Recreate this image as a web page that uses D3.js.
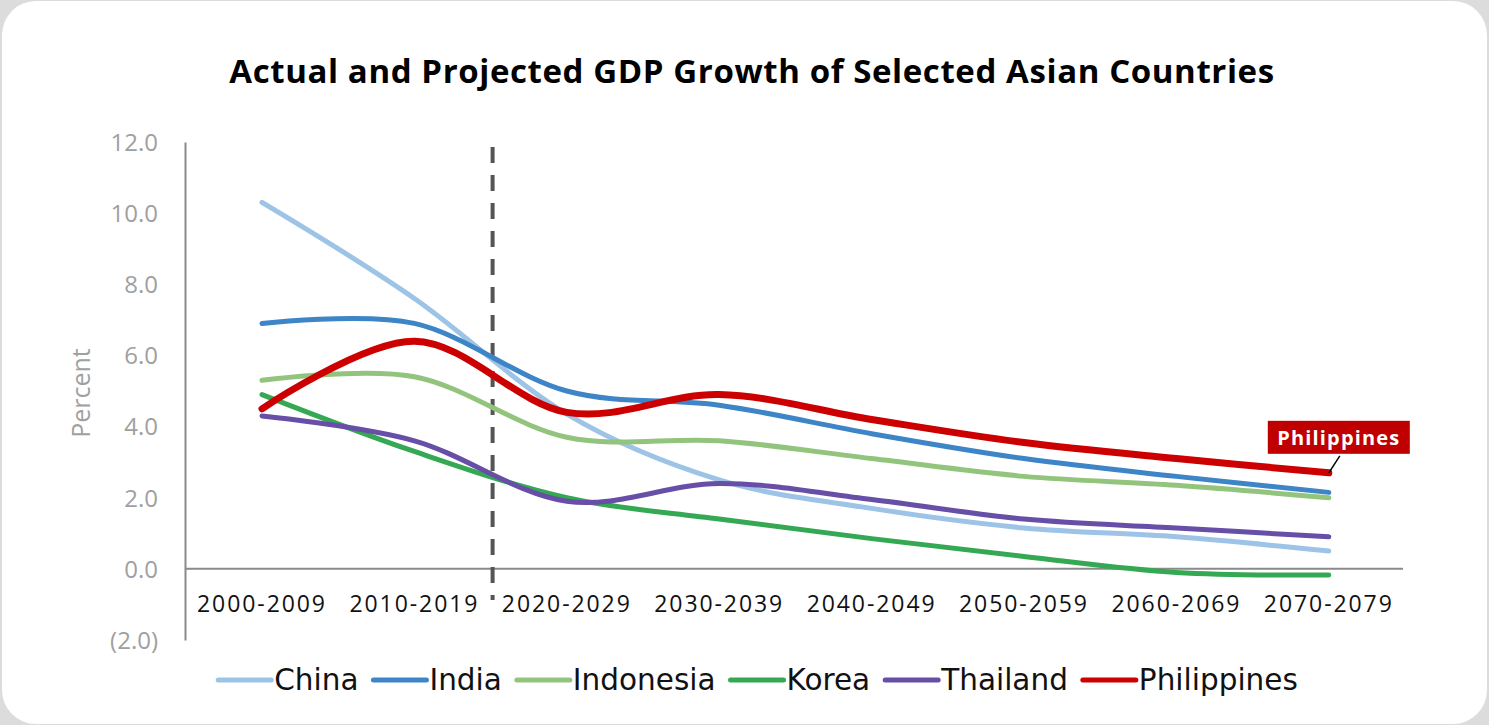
<!DOCTYPE html>
<html>
<head>
<meta charset="utf-8">
<script src="https://cdn.jsdelivr.net/npm/d3@7/dist/d3.min.js"></script>
<style>
  html, body { margin: 0; padding: 0; background: #dcdcdc; }
  svg { display: block; }
</style>
</head>
<body>
<svg id="chart" width="1489" height="725"></svg>
<script>
// ---- data ----
const categories = ["2000-2009","2010-2019","2020-2029","2030-2039","2040-2049","2050-2059","2060-2069","2070-2079"];
const china       = [10.3, 7.6, 4.35, 2.5, 1.7, 1.15, 0.9, 0.5];
const india       = [6.9, 6.9, 5.0, 4.6, 3.8, 3.1, 2.6, 2.15];
const indonesia   = [5.3, 5.4, 3.7, 3.6, 3.1, 2.6, 2.35, 2.0];
const korea       = [4.9, 3.3, 2.0, 1.4, 0.85, 0.35, -0.1, -0.17];
const thailand    = [4.3, 3.6, 1.9, 2.4, 1.95, 1.4, 1.15, 0.9];
const philippines = [4.5, 6.4, 4.4, 4.9, 4.2, 3.55, 3.1, 2.7];
const yTicks = [-2, 0, 2, 4, 6, 8, 10, 12];
const seriesNames = ["China","India","Indonesia","Korea","Thailand","Philippines"];
const seriesValues = [china, india, indonesia, korea, thailand, philippines];
const seriesColors = ["#9DC3E6","#3D85C6","#93C47D","#34A853","#674EA7","#CC0000"];
const seriesWidths = [5, 5, 5, 5, 5, 7];
const title = "Actual and Projected GDP Growth of Selected Asian Countries";

const svg = d3.select("#chart");

// card
svg.append("rect").attr("x", 2).attr("y", 1).attr("width", 1485).attr("height", 723)
  .attr("rx", 34).attr("ry", 34).attr("fill", "#ffffff");

// helper to fit text width using letter-spacing
function fitWidth(sel, target) {
  sel.each(function() {
    const t = d3.select(this);
    const w = this.getComputedTextLength();
    const n = (t.text() || "").length;
    if (n > 1) t.attr("letter-spacing", ((target - w) / (n - 1)).toFixed(2));
  });
}

// title
const tt = svg.append("text").attr("x", 752).attr("y", 83).attr("text-anchor", "middle")
  .attr("font-family", "'Open Sans', sans-serif").attr("font-weight", 700)
  .attr("font-size", 33).attr("fill", "#000").text(title);
fitWidth(tt, 1045);

// scales
const x = d3.scaleBand().domain(categories).range([185.8, 1405]);
const y = d3.scaleLinear().domain([-2, 12]).range([640, 142]);
const xc = d => x(d) + x.bandwidth() / 2;

// y axis
const fmt = v => v < 0 ? "(" + d3.format(".1f")(-v) + ")" : d3.format(".1f")(v);
const yAxis = svg.append("g").attr("transform", "translate(185,0)")
  .call(d3.axisLeft(y).tickValues(yTicks).tickFormat(fmt).tickSize(0).tickPadding(27));
yAxis.select(".domain").attr("stroke", "#8a8a8a").attr("stroke-width", 2);
yAxis.selectAll("text").attr("font-family", "'Open Sans', sans-serif")
  .attr("font-size", 24).attr("fill", "#a0a0a0").attr("dy", "0.35em");

// x axis line at 0
svg.append("line").attr("x1", 185).attr("x2", 1403).attr("y1", y(0)).attr("y2", y(0))
  .attr("stroke", "#8a8a8a").attr("stroke-width", 2);

// x labels
const xl = svg.append("g").selectAll("text").data(categories).join("text")
  .attr("x", d => xc(d)).attr("y", 612).attr("text-anchor", "middle")
  .attr("font-family", "'Open Sans', sans-serif").attr("font-size", 23)
  .attr("fill", "#111").text(d => d);
fitWidth(xl, 128);

// y axis title
svg.append("text").attr("transform", "translate(90,393) rotate(-90)")
  .attr("text-anchor", "middle").attr("font-family", "'Open Sans', sans-serif")
  .attr("font-size", 25).attr("fill", "#a0a0a0").text("Percent");

// dashed divider between actual and projected
const divX = x(categories[2]) + 2;
svg.append("line").attr("x1", divX).attr("x2", divX).attr("y1", 147).attr("y2", 600)
  .attr("stroke", "#555").attr("stroke-width", 4).attr("stroke-dasharray", "16,12");

// lines
const line = d3.line().x((d, i) => xc(categories[i])).y(d => y(d))
  .curve(d3.curveCardinal.tension(0));
seriesValues.forEach((vals, k) => {
  svg.append("path").datum(vals).attr("d", line).attr("fill", "none")
    .attr("stroke", seriesColors[k]).attr("stroke-width", seriesWidths[k])
    .attr("stroke-linecap", "round").attr("stroke-linejoin", "round");
});

// Philippines callout
const px = xc(categories[7]), py = y(philippines[7]);
svg.append("line").attr("x1", px).attr("y1", py).attr("x2", px + 11).attr("y2", py - 17)
  .attr("stroke", "#000").attr("stroke-width", 1.5);
svg.append("rect").attr("x", px - 61).attr("y", py - 52).attr("width", 142).attr("height", 33)
  .attr("fill", "#C00000");
const pl = svg.append("text").attr("x", px + 10).attr("y", py - 28).attr("text-anchor", "middle")
  .attr("font-family", "'Open Sans', sans-serif").attr("font-weight", 700)
  .attr("font-size", 20).attr("fill", "#fff").text("Philippines");
fitWidth(pl, 122);

// legend
const lg = svg.append("g");
let cx = 0;
seriesNames.forEach((n, k) => {
  const g = lg.append("g").attr("transform", `translate(${cx},0)`);
  g.append("line").attr("x1", 2).attr("x2", 55).attr("y1", 0).attr("y2", 0)
    .attr("stroke", seriesColors[k]).attr("stroke-width", 5).attr("stroke-linecap", "round");
  const t = g.append("text").attr("x", 58).attr("y", 10)
    .attr("font-family", "'DejaVu Sans', sans-serif").attr("font-size", 29.5)
    .attr("fill", "#111").text(n);
  cx += 58 + t.node().getComputedTextLength() + 13;
});
const totalW = cx - 13;
lg.attr("transform", `translate(${757 - totalW / 2},680)`);
</script>
</body>
</html>
